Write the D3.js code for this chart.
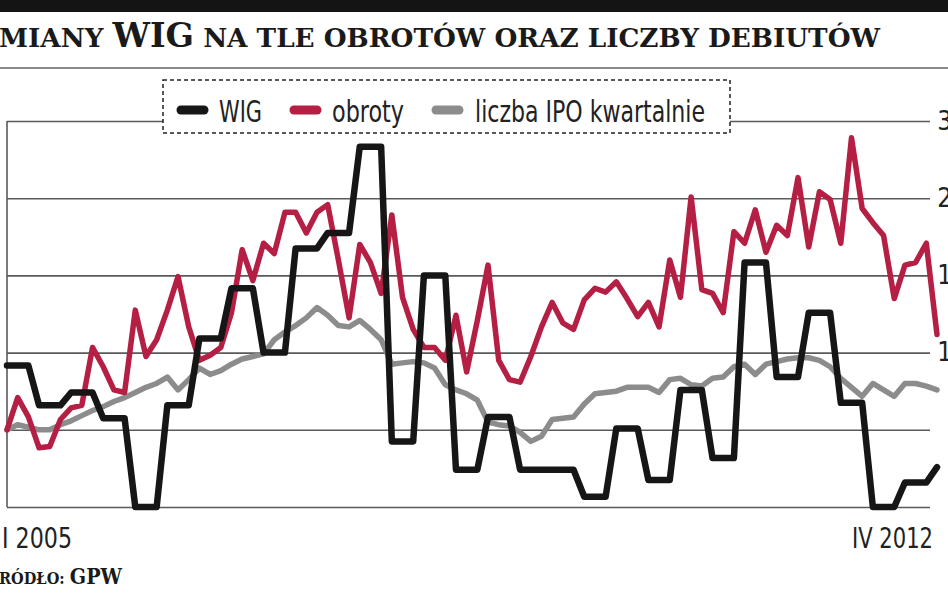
<!DOCTYPE html>
<html><head><meta charset="utf-8">
<script src="https://cdn.jsdelivr.net/npm/d3@7"></script>
<style>html,body{margin:0;padding:0;background:#fff;overflow:hidden}</style>
</head><body>
<svg id="c" width="948" height="593"></svg>
<script>
// ---- data ----
const romanMonths = ["I","II","III","IV","V","VI","VII","VIII","IX","X","XI","XII"];
const years = [2005,2006,2007,2008,2009,2010,2011,2012];
const periods = [];
years.forEach(y => romanMonths.forEach((m, i) => { if (y < 2012 || i < 4) periods.push(m + " " + y); }));
const xTickLabels = ["I 2005", "IV 2012"];
const yTickValues = [0, 6, 12, 18, 24, 30];
const seriesNames = ["WIG", "obroty", "liczba IPO kwartalnie"];

const wig = [
 11.0,11.0,11.0, 7.9,7.9,7.9, 8.9,8.9,8.9, 6.9,6.9,6.9,
 0,0,0, 7.9,7.9,7.9, 13.1,13.1,13.1, 17.0,17.0,17.0,
 12.0,12.0,12.0, 20.1,20.1,20.1, 21.3,21.3,21.3, 28.0,28.0,28.0,
 5.1,5.1,5.1, 18.0,18.0,18.0, 2.9,2.9,2.9, 7.0,7.0,7.0,
 2.9,2.9,2.9, 2.9,2.9,2.9, 0.8,0.8,0.8, 6.1,6.1,6.1,
 2.1,2.1,2.1, 9.1,9.1,9.1, 3.8,3.8,3.8, 19.0,19.0,19.0,
 10.1,10.1,10.1, 15.1,15.1,15.1, 8.1,8.1,8.1, 0,0,0,
 1.9,1.9,1.9, 3.1
];
const obroty = [
 6.0,8.5,7.0,4.6,4.7,6.8,7.7,7.9,12.4,10.9,
 9.1,8.9,15.3,11.7,13.0,15.3,17.9,14.0,11.4,11.8,
 12.4,15.1,20.0,17.6,20.5,19.7,22.9,22.9,21.3,22.9,
 23.5,19.2,14.7,20.4,19.0,16.6,22.7,16.3,13.8,12.4,
 12.4,11.4,14.9,10.5,14.5,18.8,11.4,9.9,9.7,11.7,
 14.0,15.9,14.3,13.8,16.1,17.0,16.7,17.5,16.2,14.8,
 15.9,14.0,19.2,16.3,24.1,16.9,16.6,15.1,21.4,20.5,
 23.1,19.8,21.9,21.1,25.6,20.2,24.5,23.9,20.5,28.7,
 23.2,22.1,21.1,16.2,18.8,19.0,20.5,13.4
];
const ipo = [
 6.0,6.4,6.2,6.0,6.0,6.4,6.7,7.1,7.5,7.8,
 8.2,8.5,8.9,9.3,9.6,10.1,9.1,9.9,10.8,10.3,
 10.6,11.1,11.5,11.7,11.9,13.0,13.6,14.1,14.7,15.5,
 14.9,14.1,14.0,14.5,13.8,13.0,11.1,11.2,11.3,11.2,
 10.8,9.5,9.1,8.8,8.3,6.6,6.4,6.3,5.8,5.1,
 5.5,6.8,6.9,7.0,8.0,8.8,8.9,9.0,9.3,9.3,
 9.3,8.9,9.9,10.0,9.5,9.4,10.0,10.1,10.9,11.1,
 10.3,11.1,11.3,11.5,11.6,11.6,11.4,10.9,10.0,9.3,
 8.6,9.6,9.1,8.6,9.6,9.6,9.4,9.1
];

// ---- chart ----
const svg = d3.select("#c");
const W = 948, H = 593;
const colors = {wig:"#161616", obroty:"#b51f44", ipo:"#8c8c8c"};
const condensed = "'DejaVu Sans Condensed','Liberation Sans Narrow','DejaVu Sans',sans-serif";
const serif = "'DejaVu Serif Condensed','DejaVu Serif','Liberation Serif',serif";

const x = d3.scalePoint(periods, [7, 937]);
const y = d3.scaleLinear([0, 30], [507, 121]);

// header
svg.append("rect").attr("x",0).attr("y",0).attr("width",W).attr("height",12).attr("fill","#141414");
svg.append("line").attr("x1",0).attr("x2",W).attr("y1",68).attr("y2",68).attr("stroke","#8a8a8a").attr("stroke-width",2);

function fitCutText(sel, rightX, visibleWidth) {
  const node = sel.node();
  const total = node.getComputedTextLength();
  const first = node.getSubStringLength(0, 1);
  const s = visibleWidth / (total - first);
  sel.attr("textLength", total * s).attr("lengthAdjust", "spacingAndGlyphs")
     .attr("x", rightX).attr("text-anchor", "end");
}
// manual small caps: pieces of [text, size]
function capsText(yPos, pieces) {
  const t = svg.append("text").attr("y", yPos)
    .attr("font-family", serif).attr("font-weight", "bold").attr("fill", "#1a1a1a");
  pieces.forEach(p => t.append("tspan").attr("font-size", p[1]).style("text-transform", "uppercase").text(p[0]));
  return t;
}

const title = capsText(47, [["Zmiany ", 26], ["WIG", 33], [" na tle obrotów oraz liczby debiutów", 26]]);
fitCutText(title, 880, 881);

const source = capsText(584, [["Źródło: ", 17.5], ["GPW", 23]]);
fitCutText(source, 122, 123);

// grid / right axis
const axis = d3.axisRight(y).tickValues(yTickValues).tickSize(923).tickPadding(3);
const ag = svg.append("g").attr("transform", "translate(7,0)").call(axis);
ag.select(".domain").remove();
ag.selectAll(".tick line").attr("stroke", "#5a5a5a").attr("stroke-width", 1.6);
ag.selectAll(".tick text").attr("font-family", condensed).attr("font-size", 26).attr("fill", "#222")
  .attr("text-anchor", "end").attr("x", 960);
svg.append("line").attr("x1",7).attr("x2",7).attr("y1",y(30)).attr("y2",y(0))
  .attr("stroke","#5a5a5a").attr("stroke-width",1.6);

// x labels
svg.append("text").attr("x", 2).attr("y", 548).attr("font-family", condensed).attr("font-size", 28)
  .attr("fill", "#222").attr("textLength", 70).attr("lengthAdjust", "spacingAndGlyphs").text(xTickLabels[0]);
svg.append("text").attr("x", 933).attr("y", 548).attr("text-anchor", "end").attr("font-family", condensed).attr("font-size", 28)
  .attr("fill", "#222").attr("textLength", 81).attr("lengthAdjust", "spacingAndGlyphs").text(xTickLabels[1]);

// lines
const line = d3.line().x((d, i) => x(periods[i])).y(d => y(d));
svg.append("path").datum(ipo).attr("d", line).attr("fill","none").attr("stroke",colors.ipo)
  .attr("stroke-width",5.5).attr("stroke-linejoin","round").attr("stroke-linecap","round");
svg.append("path").datum(obroty).attr("d", line).attr("fill","none").attr("stroke",colors.obroty)
  .attr("stroke-width",5.5).attr("stroke-linejoin","round").attr("stroke-linecap","round");
svg.append("path").datum(wig).attr("d", line).attr("fill","none").attr("stroke",colors.wig)
  .attr("stroke-width",6.5).attr("stroke-linejoin","round").attr("stroke-linecap","round");

// legend
const lg = svg.append("g");
lg.append("rect").attr("x",163).attr("y",80).attr("width",567).attr("height",53)
  .attr("fill","#fff").attr("stroke","#222").attr("stroke-width",1.5).attr("stroke-dasharray","4,3");
const items = [
  {name: seriesNames[0], color: colors.wig, sx: 177, tx: 219, tw: 43},
  {name: seriesNames[1], color: colors.obroty, sx: 290, tx: 332, tw: 72},
  {name: seriesNames[2], color: colors.ipo, sx: 432, tx: 475, tw: 230}
];
items.forEach(it => {
  lg.append("line").attr("x1", it.sx + 4).attr("x2", it.sx + 27).attr("y1", 110).attr("y2", 110)
    .attr("stroke", it.color).attr("stroke-width", 9).attr("stroke-linecap", "round");
  lg.append("text").attr("x", it.tx).attr("y", 122).attr("font-family", condensed).attr("font-size", 30)
    .attr("fill", "#222").attr("textLength", it.tw).attr("lengthAdjust", "spacingAndGlyphs").text(it.name);
});
</script>
</body></html>
